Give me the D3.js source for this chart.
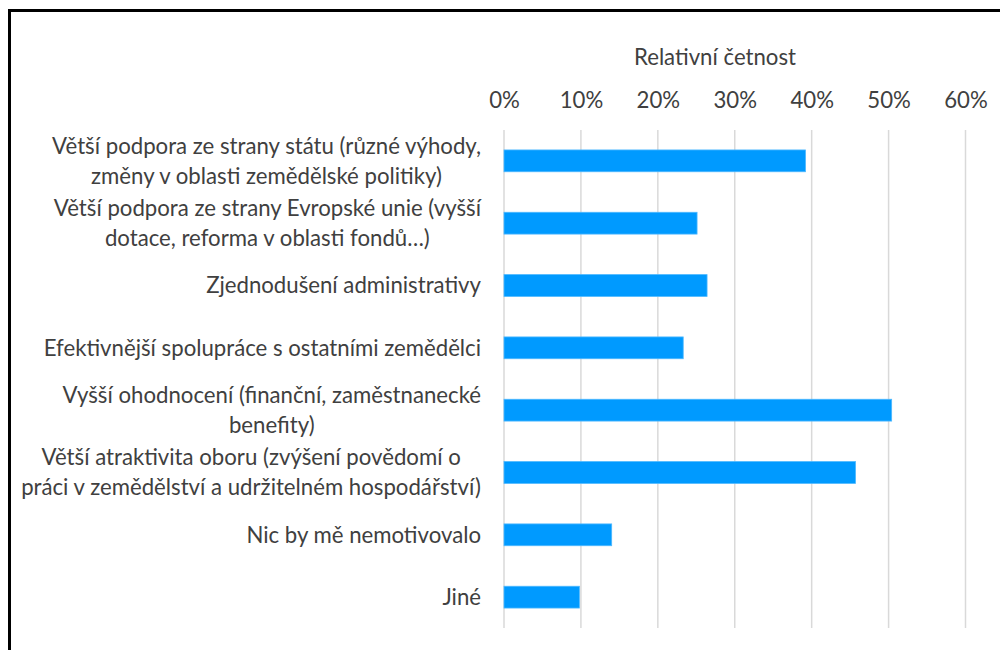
<!DOCTYPE html>
<html>
<head>
<meta charset="utf-8">
<script src="https://cdn.jsdelivr.net/npm/d3@7"></script>
<style>
  body { margin: 0; background: #fff; }
  text { font-family: Lato, "Open Sans", sans-serif; fill: #404040; }
</style>
</head>
<body>
<div id="chart"></div>
<script>
// categories (top to bottom), each one split into its wrapped lines
const categories = [
    ["Větší podpora ze strany státu (různé výhody,", "změny v oblasti zemědělské politiky)"],
    ["Větší podpora ze strany Evropské unie (vyšší", "dotace, reforma v oblasti fondů…)"],
    ["Zjednodušení administrativy"],
    ["Efektivnější spolupráce s ostatními zemědělci"],
    ["Vyšší ohodnocení (finanční, zaměstnanecké", "benefity)"],
    ["Větší atraktivita oboru (zvýšení povědomí o", "práci v zemědělství a udržitelném hospodářství)"],
    ["Nic by mě nemotivovalo"],
    ["Jiné"]
];
const values = [39.2, 25.1, 26.4, 23.3, 50.4, 45.7, 14.0, 9.8];   // % respondents
const ticks = [0, 10, 20, 30, 40, 50, 60];
const axisTitle = "Relativní četnost";

const w = 1000, h = 650;
const margin = { top: 130, right: 34.5, bottom: 22, left: 504 };
const fontSize = 22.2;
const lineGap = 30;

const svg = d3.select("#chart").append("svg")
    .attr("width", w)
    .attr("height", h);

// frame (left and top edges only show in the crop)
svg.append("path")
    .attr("d", `M9.5,${h} V10.5 H${w}`)
    .attr("fill", "none")
    .attr("stroke", "#000")
    .attr("stroke-width", 3);

const x = d3.scaleLinear()
    .domain([0, 60])
    .range([margin.left, w - margin.right]);

const y = d3.scaleBand()
    .domain(d3.range(categories.length))
    .range([margin.top, h - margin.bottom])
    .paddingInner(0.65)
    .paddingOuter(0.32);

// gridlines
svg.append("g")
    .selectAll("line")
    .data(ticks)
    .enter()
    .append("line")
    .attr("x1", d => x(d)).attr("x2", d => x(d))
    .attr("y1", margin.top).attr("y2", h - margin.bottom)
    .attr("stroke", "#d9d9d9")
    .attr("stroke-width", 1.5);

// top axis, labels only
const axis = svg.append("g")
    .attr("transform", `translate(0,${margin.top - 22})`)
    .call(d3.axisTop(x).tickValues(ticks).tickFormat(d => d + "%").tickSize(0).tickPadding(0));
axis.select(".domain").remove();
axis.selectAll("text")
    .style("font-size", fontSize + "px")
    .style("font-family", "Lato, sans-serif")
    .attr("fill", "#404040");

svg.append("text")
    .attr("x", 715)
    .attr("y", 65)
    .attr("text-anchor", "middle")
    .style("font-size", fontSize + "px")
    .text(axisTitle);

// bars
svg.append("g")
    .selectAll("rect")
    .data(values)
    .enter()
    .append("rect")
    .attr("x", x(0))
    .attr("y", (d, i) => y(i))
    .attr("width", d => x(d) - x(0))
    .attr("height", y.bandwidth())
    .attr("fill", "#009aff")
    .attr("stroke", "#4db8ff")
    .attr("stroke-width", 0.8);

// category labels: block right aligned, lines centred inside it
const labelRight = 481;
const labels = svg.append("g")
    .selectAll("g")
    .data(categories)
    .enter()
    .append("g");

labels.each(function (lines, i) {
    const g = d3.select(this);
    const cy = y(i) + y.bandwidth() / 2;
    const texts = g.selectAll("text")
        .data(lines)
        .enter()
        .append("text")
        .attr("y", (d, k) => cy + (k - (lines.length - 1) / 2) * lineGap)
        .attr("dy", "0.35em")
        .attr("text-anchor", "middle")
        .style("font-size", fontSize + "px")
        .text(d => d);
    let maxW = 0;
    texts.each(function () { maxW = Math.max(maxW, this.getComputedTextLength()); });
    texts.attr("x", labelRight - maxW / 2);
});
</script>
</body>
</html>
